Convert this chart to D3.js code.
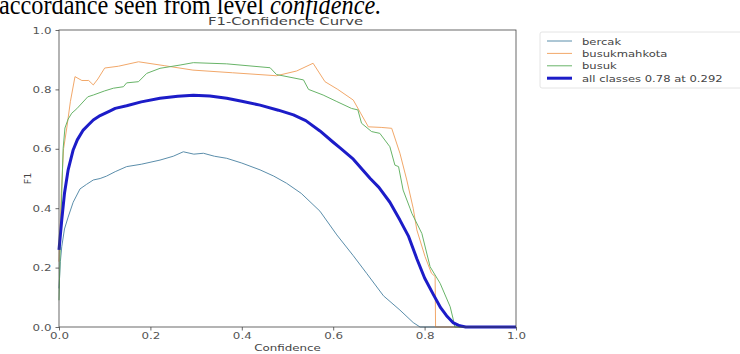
<!DOCTYPE html>
<html>
<head>
<meta charset="utf-8">
<script src="https://cdn.jsdelivr.net/npm/d3@7"></script>
<style>
  html, body { margin: 0; padding: 0; background: #fff; }
  svg { display: block; }
</style>
</head>
<body>
<svg id="chart" width="740" height="354"></svg>
<script>
// confidence / F1 readings per class
const bercakConf = [0, 0.003, 0.006, 0.012, 0.02, 0.031, 0.046, 0.06, 0.075, 0.09, 0.104, 0.123, 0.148, 0.18, 0.221, 0.25, 0.272, 0.295, 0.316, 0.34, 0.367, 0.4, 0.44, 0.47, 0.498, 0.53, 0.571, 0.608, 0.644, 0.673, 0.71, 0.746, 0.775, 0.79, 1.0];
const bercakF1 = [0.13, 0.22, 0.27, 0.33, 0.37, 0.42, 0.465, 0.48, 0.495, 0.5, 0.508, 0.523, 0.54, 0.548, 0.562, 0.575, 0.59, 0.582, 0.585, 0.575, 0.568, 0.552, 0.529, 0.508, 0.484, 0.45, 0.39, 0.31, 0.24, 0.181, 0.105, 0.057, 0.015, 0, 0];

const mahkotaConf = [0, 0.005, 0.01, 0.017, 0.025, 0.035, 0.05, 0.065, 0.075, 0.085, 0.1, 0.13, 0.174, 0.23, 0.293, 0.38, 0.476, 0.52, 0.556, 0.582, 0.61, 0.644, 0.66, 0.677, 0.705, 0.728, 0.746, 0.761, 0.775, 0.783, 0.801, 0.815, 0.823, 0.824, 1.0];
const mahkotaF1 = [0.22, 0.45, 0.6, 0.67, 0.76, 0.843, 0.83, 0.83, 0.815, 0.835, 0.872, 0.878, 0.893, 0.88, 0.865, 0.856, 0.846, 0.862, 0.888, 0.826, 0.8, 0.764, 0.72, 0.674, 0.672, 0.669, 0.585, 0.495, 0.4, 0.327, 0.237, 0.181, 0.17, 0, 0];

const busukConf = [0, 0.004, 0.009, 0.013, 0.02, 0.028, 0.039, 0.063, 0.075, 0.1, 0.119, 0.141, 0.148, 0.174, 0.192, 0.221, 0.265, 0.294, 0.367, 0.462, 0.476, 0.535, 0.546, 0.578, 0.608, 0.64, 0.654, 0.662, 0.684, 0.702, 0.724, 0.735, 0.743, 0.753, 0.768, 0.772, 0.794, 0.812, 0.834, 0.856, 0.862, 0.866, 1.0];
const busukF1 = [0.09, 0.35, 0.6, 0.67, 0.7, 0.72, 0.735, 0.775, 0.781, 0.795, 0.804, 0.809, 0.822, 0.826, 0.854, 0.871, 0.882, 0.89, 0.886, 0.873, 0.85, 0.832, 0.8, 0.781, 0.759, 0.736, 0.731, 0.686, 0.658, 0.652, 0.607, 0.545, 0.54, 0.461, 0.4, 0.383, 0.315, 0.203, 0.147, 0.068, 0.03, 0, 0];

const allConf = [0, 0.006, 0.012, 0.02, 0.031, 0.04, 0.053, 0.064, 0.075, 0.09, 0.112, 0.123, 0.148, 0.18, 0.221, 0.26, 0.294, 0.33, 0.367, 0.4, 0.44, 0.48, 0.513, 0.54, 0.571, 0.6, 0.615, 0.644, 0.681, 0.7, 0.724, 0.746, 0.765, 0.783, 0.8, 0.819, 0.835, 0.848, 0.862, 0.877, 0.89, 1.0];
const allF1 = [0.26, 0.36, 0.45, 0.529, 0.596, 0.63, 0.663, 0.68, 0.697, 0.712, 0.728, 0.736, 0.745, 0.758, 0.77, 0.777, 0.78, 0.778, 0.77, 0.76, 0.747, 0.73, 0.714, 0.695, 0.66, 0.622, 0.603, 0.565, 0.5, 0.47, 0.42, 0.36, 0.305, 0.23, 0.165, 0.11, 0.065, 0.038, 0.015, 0.004, 0, 0];

const seriesNames = ['bercak', 'busukmahkota', 'busuk', 'all classes 0.78 at 0.292'];
const xTicks = [0, 0.2, 0.4, 0.6, 0.8, 1.0];
const yTicks = [0, 0.2, 0.4, 0.6, 0.8, 1.0];

const series = [
  { name: seriesNames[0], conf: bercakConf, f1: bercakF1, color: '#5b8eab', width: 1 },
  { name: seriesNames[1], conf: mahkotaConf, f1: mahkotaF1, color: '#f2a86a', width: 1 },
  { name: seriesNames[2], conf: busukConf, f1: busukF1, color: '#68b468', width: 1 },
  { name: seriesNames[3], conf: allConf, f1: allF1, color: '#1c1cc8', width: 3 }
];

const svg = d3.select('#chart');
const margin = { left: 59, top: 30, right: 224, bottom: 27 };
const W = 740, H = 354;
const width = W - margin.left - margin.right;
const height = H - margin.top - margin.bottom;
const sans = '"DejaVu Sans", sans-serif';
const stretch = 1.25; // the source figure is widened

svg.append('rect').attr('width', W).attr('height', H).attr('fill', '#fff');

// clipped paper text above the figure
const cap = svg.append('text')
  .attr('transform', 'translate(-1,13.5) scale(0.9,1)')
  .attr('font-family', '"Liberation Serif", "Times New Roman", serif')
  .attr('font-size', 27)
  .attr('fill', '#000');
cap.append('tspan').text('accordance seen from level ');
cap.append('tspan').attr('font-style', 'italic').text('confidence.');

const g = svg.append('g').attr('transform', `translate(${margin.left},${margin.top})`);

const x = d3.scaleLinear().domain([0, 1]).range([0, width]);
const y = d3.scaleLinear().domain([0, 1]).range([height, 0]);

const line = d3.line()
  .x(d => x(d[0]))
  .y(d => y(d[1]));

g.selectAll('.curve')
  .data(series)
  .join('path')
  .attr('class', 'curve')
  .attr('fill', 'none')
  .attr('stroke', d => d.color)
  .attr('stroke-width', d => d.width)
  .attr('stroke-linejoin', 'round')
  .attr('d', d => line(d.conf.map((c, i) => [c, d.f1[i]])));

const fmt = d3.format('.1f');
const xAxis = g.append('g')
  .attr('transform', `translate(0,${height})`)
  .call(d3.axisBottom(x).tickValues(xTicks).tickFormat(fmt).tickSize(3.5).tickPadding(2));
const yAxis = g.append('g')
  .call(d3.axisLeft(y).tickValues(yTicks).tickFormat(fmt).tickSize(3.5).tickPadding(2.5));

[xAxis, yAxis].forEach(a => {
  a.select('.domain').remove();
  a.selectAll('line').attr('stroke', '#444').attr('stroke-width', 0.8);
  a.selectAll('text')
    .attr('font-family', sans)
    .attr('font-size', 9.5)
    .attr('fill', '#555')
    .attr('transform', `scale(${stretch},1)`);
});

// frame
g.append('rect')
  .attr('width', width).attr('height', height)
  .attr('fill', 'none').attr('stroke', '#444').attr('stroke-width', 0.8);

function label(parent, px, py, txt, size, sx, rot) {
  return parent.append('text')
    .attr('transform', `translate(${px},${py})${rot ? ' rotate(-90)' : ''} scale(${sx},1)`)
    .attr('text-anchor', 'middle')
    .attr('font-family', sans)
    .attr('font-size', size)
    .attr('fill', '#444')
    .text(txt);
}

label(g, width / 2 - 2, -5, 'F1-Confidence Curve', 11, 1.35);
label(g, width / 2, height + 24, 'Confidence', 9.5, stretch);
label(g, -28, height / 2, 'F1', 9.5, 1, true);

// legend
const legend = svg.append('g').attr('transform', 'translate(540,32)');
legend.append('rect')
  .attr('width', 220).attr('height', 56).attr('rx', 2)
  .attr('fill', '#fff').attr('stroke', '#ddd').attr('stroke-width', 0.8);
const rows = legend.selectAll('.row')
  .data(series)
  .join('g')
  .attr('class', 'row')
  .attr('transform', (d, i) => `translate(0,${9 + i * 12.4})`);
rows.append('line')
  .attr('x1', 7).attr('x2', 32)
  .attr('stroke', d => d.color)
  .attr('stroke-width', d => d.width);
rows.append('text')
  .attr('transform', 'translate(42,3.5) scale(1.22,1)')
  .attr('font-family', sans)
  .attr('font-size', 9.5)
  .attr('fill', '#444')
  .text(d => d.name);
</script>
</body>
</html>
